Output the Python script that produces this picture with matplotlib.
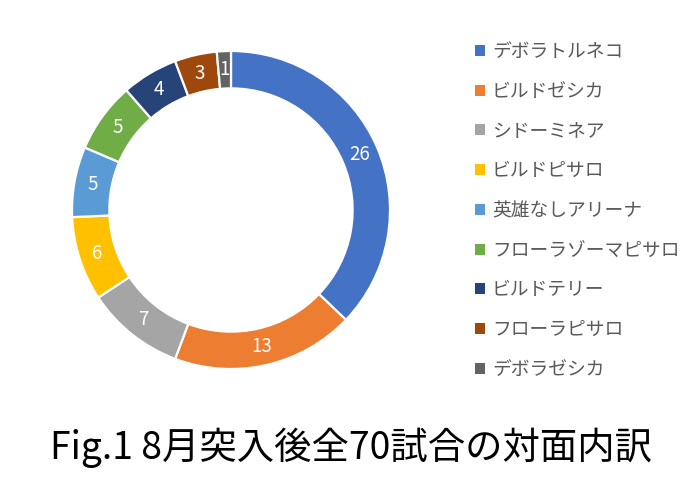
import matplotlib
matplotlib.use("Agg")
import matplotlib.pyplot as plt

plt.rcParams['font.family'] = ['Noto Sans CJK JP', 'DejaVu Sans']

# データ
labels = ['デボラトルネコ', 'ビルドゼシカ', 'シドーミネア', 'ビルドピサロ', '英雄なしアリーナ',
          'フローラゾーマピサロ', 'ビルドテリー', 'フローラピサロ', 'デボラゼシカ']
counts = [26, 13, 7, 6, 5, 5, 4, 3, 1]
colors = ['#4472C4', '#ED7D31', '#A5A5A5', '#FFC000', '#5B9BD5',
          '#70AD47', '#264478', '#9E480E', '#636363']
title = 'Fig.1 8月突入後全70試合の対面内訳'

W, H = 700, 497
fig = plt.figure(figsize=(W / 100, H / 100), dpi=100)

# ドーナツの中心と半径（ピクセル）
cx, cy, r = 231, 210, 159
ax = fig.add_axes([(cx - r) / W, (H - cy - r) / H, 2 * r / W, 2 * r / H])

width = 0.235
wedges, texts = ax.pie(counts, colors=colors, startangle=90, counterclock=False,
                       radius=1, labels=[str(c) for c in counts], labeldistance=1 - width / 2,
                       wedgeprops=dict(width=width, edgecolor='white', linewidth=1.6))
for t in texts:
    t.set_color('white')
    t.set_fontsize(13.5)
    t.set_ha('center')
    t.set_va('center')
ax.set_xlim(-1, 1)
ax.set_ylim(-1, 1)
ax.set_aspect('equal')
ax.axis('off')

leg = fig.legend(wedges, labels, loc='upper left', bbox_to_anchor=(475 / W, 1 - 41 / H),
                 frameon=False, fontsize=13.5, handlelength=0.53, handleheight=0.53,
                 handletextpad=0.37, labelspacing=1.0, borderpad=0, borderaxespad=0)
for t in leg.get_texts():
    t.set_color('#595959')
for h in leg.legend_handles:
    h.set_linewidth(0)

fig.text(351 / W, 1 - 448 / H, title, ha='center', va='center', fontsize=26.9, color='black')

fig.savefig('out.png', dpi=100, facecolor='white')
